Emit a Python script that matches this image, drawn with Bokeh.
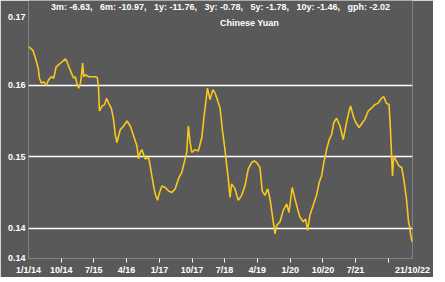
import pandas as pd
from bokeh.plotting import figure
from bokeh.models import Range1d, FixedTicker, PrintfTickFormatter, CustomJSTickFormatter, Label
from bokeh.embed import file_html
from bokeh.resources import INLINE

# ---- data ----
DATES = [
    "2014-01-03", "2014-02-06", "2014-02-28", "2014-03-23", "2014-04-02", "2014-04-19",
    "2014-05-08", "2014-05-28", "2014-06-19", "2014-07-11", "2014-07-31", "2014-08-20",
    "2014-09-11", "2014-10-09", "2014-11-05", "2014-11-19", "2014-12-09", "2015-01-01",
    "2015-01-14", "2015-01-28", "2015-02-12", "2015-02-25", "2015-03-11", "2015-03-19",
    "2015-03-30", "2015-04-08", "2015-04-22", "2015-05-19", "2015-06-17", "2015-07-14",
    "2015-07-31", "2015-08-11", "2015-08-17", "2015-09-08", "2015-09-30", "2015-10-16",
    "2015-11-02", "2015-11-25", "2015-12-14", "2015-12-28", "2016-01-11", "2016-02-08",
    "2016-03-07", "2016-04-04", "2016-05-02", "2016-05-30", "2016-06-27", "2016-07-10",
    "2016-07-24", "2016-08-07", "2016-08-21", "2016-09-04", "2016-10-02", "2016-10-16",
    "2016-10-30", "2016-11-13", "2016-11-27", "2016-12-16", "2017-01-02", "2017-01-22",
    "2017-02-19", "2017-03-18", "2017-04-15", "2017-05-13", "2017-06-09", "2017-07-07",
    "2017-08-04", "2017-08-18", "2017-08-31", "2017-09-15", "2017-09-29", "2017-10-27",
    "2017-11-23", "2017-12-22", "2018-01-10", "2018-01-27", "2018-02-07", "2018-03-01",
    "2018-03-24", "2018-04-12", "2018-05-01", "2018-05-24", "2018-06-12", "2018-07-04",
    "2018-07-19", "2018-08-01", "2018-08-15", "2018-08-29", "2018-09-26", "2018-10-23",
    "2018-11-21", "2018-12-18", "2019-01-15", "2019-02-13", "2019-03-06", "2019-03-26",
    "2019-04-23", "2019-05-12", "2019-06-04", "2019-06-27", "2019-07-16", "2019-08-05",
    "2019-08-27", "2019-09-10", "2019-10-08", "2019-11-04", "2019-12-03", "2019-12-22",
    "2020-01-18", "2020-02-10", "2020-03-03", "2020-03-22", "2020-04-19", "2020-05-09",
    "2020-05-26", "2020-06-14", "2020-07-12", "2020-08-09", "2020-08-31", "2020-09-20",
    "2020-10-09", "2020-11-01", "2020-11-23", "2020-12-13", "2021-01-01", "2021-01-24",
    "2021-02-21", "2021-03-20", "2021-04-17", "2021-05-09", "2021-05-21", "2021-06-12",
    "2021-07-04", "2021-07-31", "2021-08-29", "2021-09-17", "2021-10-15", "2021-11-12",
    "2021-12-10", "2022-01-06", "2022-02-04", "2022-02-23", "2022-03-17", "2022-04-08",
    "2022-04-20", "2022-04-28", "2022-05-07", "2022-05-17", "2022-06-09", "2022-07-01",
    "2022-07-23", "2022-08-09", "2022-09-01", "2022-09-18", "2022-09-28", "2022-10-07",
    "2022-10-18", "2022-10-21",
]
VALUES = [
    0.1654, 0.1649, 0.1638, 0.1624, 0.1610, 0.1603,
    0.1605, 0.1600, 0.1608, 0.1612, 0.1610, 0.1626,
    0.1629, 0.1633, 0.1637, 0.1633, 0.1624, 0.1615,
    0.1610, 0.1612, 0.1601, 0.1596, 0.1603, 0.1612,
    0.1631, 0.1612, 0.1615, 0.1612, 0.1612, 0.1612,
    0.1611, 0.1594, 0.1564, 0.1571, 0.1573, 0.1582,
    0.1575, 0.1568, 0.1552, 0.1531, 0.1520, 0.1538,
    0.1543, 0.1550, 0.1543, 0.1529, 0.1515, 0.1497,
    0.1506, 0.1510, 0.1503, 0.1497, 0.1499, 0.1487,
    0.1473, 0.1459, 0.1448, 0.1439, 0.1450, 0.1459,
    0.1457, 0.1452, 0.1450, 0.1455, 0.1469, 0.1478,
    0.1497, 0.1506, 0.1543, 0.1520, 0.1506, 0.1510,
    0.1508, 0.1527, 0.1557, 0.1580, 0.1596, 0.1580,
    0.1594, 0.1589, 0.1580, 0.1568, 0.1538, 0.1510,
    0.1487, 0.1469, 0.1443, 0.1462, 0.1455, 0.1439,
    0.1446, 0.1459, 0.1483, 0.1492, 0.1494, 0.1492,
    0.1485, 0.1452, 0.1446, 0.1455, 0.1441, 0.1418,
    0.1392, 0.1404, 0.1409, 0.1425, 0.1434, 0.1422,
    0.1457, 0.1441, 0.1427, 0.1416, 0.1409, 0.1413,
    0.1397, 0.1418, 0.1432, 0.1446, 0.1464, 0.1473,
    0.1492, 0.1510, 0.1524, 0.1531, 0.1548, 0.1554,
    0.1543, 0.1524, 0.1548, 0.1564, 0.1571, 0.1557,
    0.1548, 0.1541, 0.1548, 0.1552, 0.1564, 0.1568,
    0.1573, 0.1575, 0.1582, 0.1584, 0.1575, 0.1573,
    0.1538, 0.1506, 0.1473, 0.1501, 0.1494, 0.1487,
    0.1485, 0.1469, 0.1441, 0.1409, 0.1402, 0.1390,
    0.1381, 0.1385,
]

X_START = "2014-01-01"
X_END = "2022-10-21"
XTICK_DATES = ["2014-01-01", "2014-10-01", "2015-07-01", "2016-04-01", "2017-01-01",
               "2017-10-01", "2018-07-01", "2019-04-01", "2020-01-01", "2020-10-01",
               "2021-07-01", "2022-10-21"]
XTICK_LABELS = ["1/1/14", "10/14", "7/15", "4/16", "1/17", "10/17", "7/18", "4/19",
                "1/20", "10/20", "7/21", "21/10/22"]
XMINOR_DATES = ["2014-10-01", "2015-07-01", "2016-04-01", "2017-01-01", "2017-10-01",
                "2018-07-01", "2019-04-01", "2020-01-01", "2020-10-01", "2021-07-01",
                "2022-04-01"]

Y_MIN = 0.13576
Y_MAX = 0.171875
YTICKS = [0.1358, 0.14, 0.15, 0.16, 0.1695]
YGRID = [0.14, 0.15, 0.16]

TITLE_1 = "\u00a0\u00a0\u00a0".join(["3m: -6.63,", "6m: -10.97,", "1y: -11.76,", "3y: -0.78,",
                                     "5y: -1.78,", "10y: -1.46,", "gph: -2.02"])
TITLE_2 = "Chinese Yuan"

BG = "#595959"
LINE = "#F7C81E"
FONT = "Liberation Sans"


def ms(d):
    return pd.Timestamp(d).value / 1e6


x = pd.to_datetime(DATES)

p = figure(width=433, height=277, x_axis_type="datetime",
           output_backend="svg", toolbar_location=None,
           min_border_left=28, min_border_right=21, min_border_top=0, min_border_bottom=17)
p.x_range = Range1d(ms(X_START) - 4.32e7, ms(X_END) + 4.32e7)
p.y_range = Range1d(Y_MIN, Y_MAX)

p.background_fill_color = BG
p.border_fill_color = BG
p.outline_line_color = None

p.line(x, VALUES, line_color=LINE, line_width=1.6)

# grid
p.xgrid.grid_line_color = None
p.ygrid.ticker = FixedTicker(ticks=YGRID)
p.ygrid.grid_line_color = "white"
p.ygrid.grid_line_width = 1.5

# y axis
ya = p.yaxis[0]
ya.ticker = FixedTicker(ticks=YTICKS)
ya.formatter = PrintfTickFormatter(format="%.2f")
ya.axis_line_color = None
ya.major_tick_line_color = None
ya.minor_tick_line_color = None
ya.major_tick_in = 0
ya.major_tick_out = 0
ya.minor_tick_in = 0
ya.minor_tick_out = 0
ya.major_label_standoff = 3
ya.major_label_text_color = "white"
ya.major_label_text_font = FONT
ya.major_label_text_font_style = "bold"
ya.major_label_text_font_size = "9px"

# x axis
xa = p.xaxis[0]
xa.ticker = FixedTicker(ticks=[ms(d) for d in XTICK_DATES],
                        minor_ticks=[ms(d) for d in XMINOR_DATES])
xa.formatter = CustomJSTickFormatter(args=dict(labels=XTICK_LABELS),
                                     code="return labels[index];")
xa.axis_line_color = None
xa.major_tick_line_color = None
xa.major_tick_in = 0
xa.major_tick_out = 0
xa.minor_tick_line_color = "white"
xa.minor_tick_in = 0
xa.minor_tick_out = 4
xa.major_label_standoff = 2
xa.major_label_text_color = "white"
xa.major_label_text_font = FONT
xa.major_label_text_font_style = "bold"
xa.major_label_text_font_size = "9px"

# titles
p.add_layout(Label(x=192, y=252, x_units="screen", y_units="screen", text=TITLE_1,
                   text_align="center", text_baseline="middle", text_color="white",
                   text_font=FONT, text_font_style="bold", text_font_size="9px"))
p.add_layout(Label(x=221, y=236, x_units="screen", y_units="screen", text=TITLE_2,
                   text_align="center", text_baseline="middle", text_color="white",
                   text_font=FONT, text_font_style="bold", text_font_size="9px"))

open("out.html", "w").write(file_html(p, INLINE))
